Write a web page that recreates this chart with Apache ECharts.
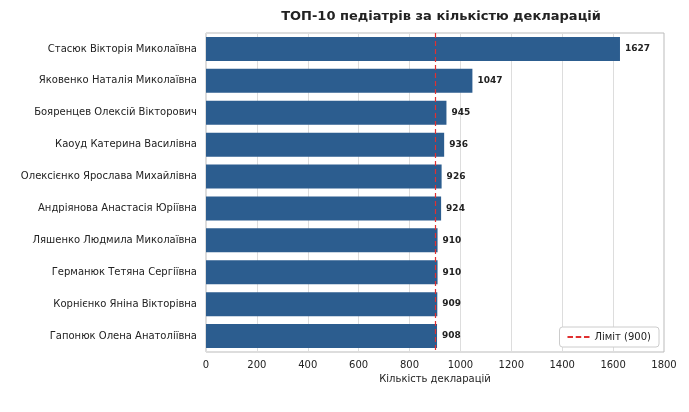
<!DOCTYPE html>
<html><head><meta charset="utf-8">
<script src="https://cdn.jsdelivr.net/npm/echarts@6/dist/echarts.min.js"></script>
<style>html,body{margin:0;padding:0;background:#fff}#c{width:689px;height:412px}</style>
</head><body><div id="c"></div>
<script>
const categories = ["Стасюк Вікторія Миколаївна","Яковенко Наталія Миколаївна","Бояренцев Олексій Вікторович","Каоуд Катерина Василівна","Олексієнко Ярослава Михайлівна","Андріянова Анастасія Юріївна","Ляшенко Людмила Миколаївна","Германюк Тетяна Сергіївна","Корнієнко Яніна Вікторівна","Гапонюк Олена Анатоліївна"];
const values = [1627,1047,945,936,926,924,910,910,909,908];
const limit = 900;
const F = "DejaVu Sans";
const chart = echarts.init(document.getElementById('c'));
chart.setOption({
  animation:false,
  title:{text:"ТОП-10 педіатрів за кількістю декларацій",left:436,textAlign:'center',top:5,textStyle:{fontFamily:F,fontSize:13,fontWeight:'bold',color:'#222'}},
  grid:{left:206,right:25,top:33,bottom:60,show:true,borderColor:'#bbb',borderWidth:1},
  legend:{data:[{name:'Ліміт (900)',icon:'path://M0,5h6v2h-6zM9,5h6v2h-6zM18,5h6v2h-6z'}],right:30,bottom:65,itemWidth:22,itemHeight:8,
    backgroundColor:'#fff',borderColor:'#ccc',borderWidth:1,borderRadius:3,padding:[5,8],textStyle:{fontFamily:F,fontSize:10,color:'#222'}},
  xAxis:{type:'value',min:0,max:1800,interval:200,name:'Кількість декларацій',nameLocation:'middle',nameGap:20,
    nameTextStyle:{fontFamily:F,fontSize:10,color:'#222'},
    axisLine:{show:false},axisTick:{show:false},axisLabel:{fontFamily:F,fontSize:10,color:'#222',formatter:v=>String(v)},
    splitLine:{lineStyle:{color:'#ddd'}}},
  yAxis:{type:'category',data:categories,inverse:true,axisLine:{show:false},axisTick:{show:false},
    axisLabel:{fontFamily:F,fontSize:10,color:'#222',margin:9},splitLine:{show:false}},
  series:[{type:'bar',data:values,barWidth:24,itemStyle:{color:'#2c5d8f'},
    label:{show:true,position:'right',distance:5,fontFamily:F,fontSize:9,fontWeight:'bold',color:'#222'}},
   {type:'line',name:'Ліміт (900)',data:[],z:10,itemStyle:{color:'#e03030'},lineStyle:{color:'#e03030'},
    markLine:{silent:true,symbol:'none',label:{show:false},lineStyle:{color:'#e03030',type:[5,3],width:1.2},data:[{xAxis:limit}]}}]
});
</script></body></html>
